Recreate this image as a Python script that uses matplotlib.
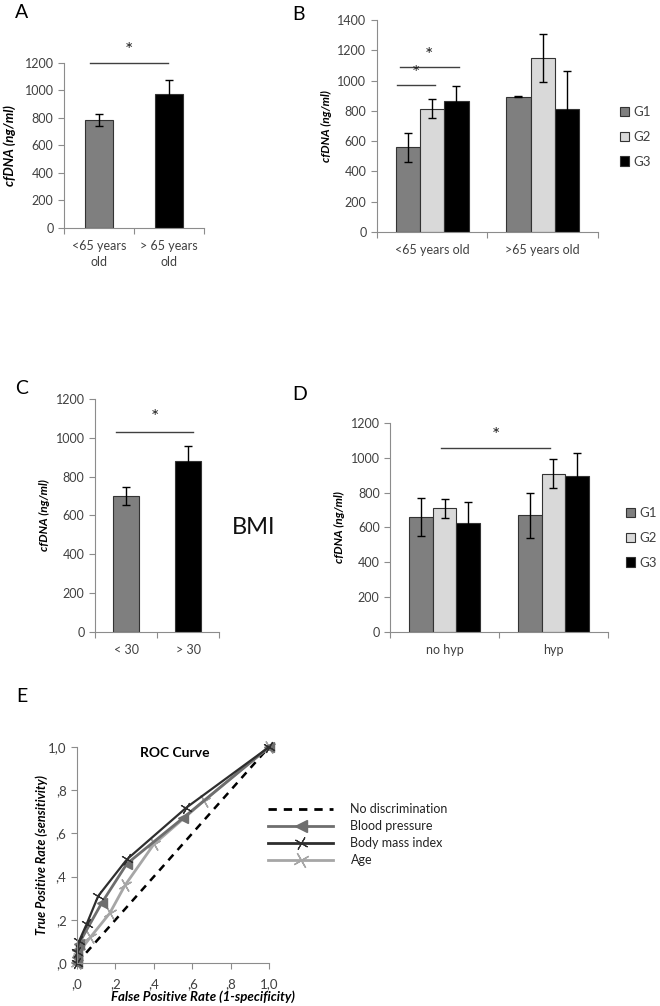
import numpy as np
import matplotlib
matplotlib.use('Agg')
import matplotlib.pyplot as plt
from matplotlib.lines import Line2D

plt.rcParams['font.family'] = ['Lato', 'DejaVu Sans']

# panel A: age
age_cats = ['<65 years\nold', '> 65 years\nold']
age_vals = [785, 975]
age_err = [45, 100]

# panel B: age x group
groups = ['G1', 'G2', 'G3']
b_cats = ['<65 years old', '>65 years old']
b_vals = [[560, 895], [815, 1150], [865, 810]]
b_err = [[95, 5], [65, 160], [100, 255]]

# panel C: BMI
bmi_cats = ['< 30', '> 30']
bmi_vals = [700, 880]
bmi_err = [45, 80]

# panel D: hypertension x group
d_cats = ['no hyp', 'hyp']
d_vals = [[660, 670], [710, 910], [625, 895]]
d_err = [[110, 130], [55, 85], [120, 130]]

# panel E: ROC curves
bp_fpr = [0, 0, 0, 0.01, 0.13, 0.26, 0.55, 1.0]
bp_tpr = [0, 0.03, 0.06, 0.09, 0.28, 0.46, 0.67, 1.0]
bmi_fpr = [0, 0, 0.01, 0.05, 0.11, 0.26, 0.57, 1.0]
bmi_tpr = [0, 0.05, 0.10, 0.18, 0.31, 0.48, 0.72, 1.0]
agec_fpr = [0, 0, 0.01, 0.07, 0.17, 0.25, 0.40, 0.66, 1.0]
agec_tpr = [0, 0.02, 0.05, 0.12, 0.23, 0.36, 0.55, 0.75, 1.0]
roc_ticks = [0, 0.2, 0.4, 0.6, 0.8, 1.0]
roc_ticklabels = [',0', ',2', ',4', ',6', ',8', '1,0']

colors = ['#7f7f7f', '#d9d9d9', '#000000']
axis_col = '#8c8c8c'
tick_col = '#404040'
FS = 9


def style_axes(ax, ymax, step, ncat, ylab_size=8.5, ylab_pad=4):
    ax.set_ylim(0, ymax)
    ax.set_yticks(np.arange(0, ymax + 1, step))
    ax.set_xlim(0, ncat)
    ax.set_xticks(np.arange(0, ncat + 1))
    ax.set_xticklabels([])
    ax.tick_params(axis='x', which='major', length=4, color=axis_col, direction='out')
    ax.tick_params(axis='x', which='minor', length=0, labelsize=FS, labelcolor=tick_col, pad=9)
    ax.tick_params(axis='y', length=4, color=axis_col, labelsize=FS, labelcolor=tick_col)
    for s in ['top', 'right']:
        ax.spines[s].set_visible(False)
    for s in ['left', 'bottom']:
        ax.spines[s].set_color(axis_col)
    ax.set_ylabel('cfDNA (ng/ml)', fontsize=ylab_size, fontweight='bold', style='italic',
                  color='black', labelpad=ylab_pad)


def sig(ax, x0, x1, y, dy):
    ax.plot([x0, x1], [y, y], color='#404040', lw=1, clip_on=False)
    ax.text((x0 + x1) / 2, y + dy, '*', ha='center', va='center', fontsize=14, color='#202020')


def two_bars(ax, cats, vals, errs):
    x = np.arange(len(cats)) + 0.5
    ax.bar(x, vals, width=0.41, color=[colors[0], colors[2]], edgecolor='#333333', lw=0.8, zorder=2)
    ax.errorbar(x, vals, yerr=errs, fmt='none', ecolor='black', elinewidth=1, capsize=3, zorder=3)
    ax.set_xticks(x, minor=True)
    ax.set_xticklabels(cats, minor=True, linespacing=1.4)


def group_bars(ax, cats, vals, errs, w):
    x = np.arange(len(cats)) + 0.5
    handles = []
    for i in range(len(groups)):
        xi = x + (i - 1) * w
        h = ax.bar(xi, vals[i], width=w, color=colors[i], edgecolor='#333333', lw=0.8, zorder=2, label=groups[i])
        ax.errorbar(xi, vals[i], yerr=errs[i], fmt='none', ecolor='black', elinewidth=1, capsize=3, zorder=3)
        handles.append(h)
    ax.set_xticks(x, minor=True)
    ax.set_xticklabels(cats, minor=True)
    return handles


def group_legend(handles, x, y):
    fig.legend(handles=handles, loc='center left', bbox_to_anchor=(x, y), frameon=False,
               fontsize=FS + 0.5, handlelength=0.7, handleheight=0.7, handletextpad=0.3,
               labelspacing=0.95, borderaxespad=0, borderpad=0, labelcolor=tick_col)


fig = plt.figure(figsize=(6.6, 10.06), dpi=100)

# A
axA = fig.add_axes([0.097, 0.7734, 0.212, 0.164])
style_axes(axA, 1200, 200, 2, ylab_size=9.5, ylab_pad=6)
two_bars(axA, age_cats, age_vals, age_err)
sig(axA, 0.37, 1.49, 1200, 90)

# B
axB = fig.add_axes([0.571, 0.7694, 0.335, 0.2106])
style_axes(axB, 1400, 200, 2)
group_legend(group_bars(axB, b_cats, b_vals, b_err, 0.22), 620 / 660, 1 - 137 / 1006)
sig(axB, 0.18, 0.53, 970, 75)
sig(axB, 0.21, 0.74, 1090, 75)

# C
axC = fig.add_axes([0.144, 0.3718, 0.188, 0.2316])
style_axes(axC, 1200, 200, 2)
two_bars(axC, bmi_cats, bmi_vals, bmi_err)
sig(axC, 0.34, 1.58, 1030, 75)
fig.text(232 / 660, 1 - 527 / 1006, 'BMI', fontsize=17, ha='left', va='center', color='#111111')

# D
axD = fig.add_axes([0.591, 0.3718, 0.330, 0.2077])
style_axes(axD, 1200, 200, 2)
group_legend(group_bars(axD, d_cats, d_vals, d_err, 0.217), 626 / 660, 1 - 538 / 1006)
sig(axD, 0.47, 1.47, 1056, 75)

# E
axE = fig.add_axes([0.1167, 0.0427, 0.2909, 0.2147])
axE.plot([0, 1], [0, 1], ls=(0, (3, 2.5)), color='black', lw=1.8)
axE.plot(agec_fpr, agec_tpr, color='#a6a6a6', lw=2, marker=(4, 2, 30), ms=10, mew=1, clip_on=False)
axE.plot(bp_fpr, bp_tpr, color='#6e6e6e', lw=2, marker='<', ms=7, clip_on=False)
axE.plot(bmi_fpr, bmi_tpr, color='#2e2e2e', lw=1.6, marker=(4, 2, 60), ms=9, mew=0.8, clip_on=False)
axE.set_xlim(0, 1)
axE.set_ylim(0, 1)
axE.set_xticks(roc_ticks)
axE.set_xticklabels(roc_ticklabels)
axE.set_yticks(roc_ticks)
axE.set_yticklabels(roc_ticklabels)
axE.tick_params(length=4, color=axis_col, labelsize=FS + 0.5, labelcolor=tick_col)
axE.tick_params(axis='x', pad=7)
for s in ['top', 'right']:
    axE.spines[s].set_visible(False)
for s in ['left', 'bottom']:
    axE.spines[s].set_color(axis_col)
axE.text(0.51, 0.972, 'ROC Curve', transform=axE.transAxes, fontsize=10, fontweight='bold',
         ha='center', va='center')
axE.set_ylabel('True Positive Rate (sensitivity)', fontsize=9, fontweight='bold', style='italic',
               labelpad=0)
fig.text(203 / 660, 1 - 997 / 1006, 'False Positive Rate (1-specificity)', fontsize=9.5,
         fontweight='bold', style='italic', ha='center', va='center')

roc_handles = [
    Line2D([], [], ls=(0, (3, 2.5)), color='black', lw=2),
    Line2D([], [], color='#6e6e6e', lw=2, marker='<', ms=8),
    Line2D([], [], color='#2e2e2e', lw=2, marker=(4, 2, 60), ms=10, mew=0.8),
    Line2D([], [], color='#a6a6a6', lw=2, marker=(4, 2, 30), ms=12, mew=1),
]
fig.legend(roc_handles, ['No discrimination', 'Blood pressure', 'Body mass index', 'Age'],
           loc='upper left', bbox_to_anchor=(268 / 660, 1 - 803 / 1006), frameon=False,
           fontsize=9, handlelength=5.2, labelspacing=0.4, handletextpad=1.4,
           borderaxespad=0, borderpad=0, labelcolor='#222222')

# panel letters
for lab, x, y in [('A', 22, 13), ('B', 299, 15), ('C', 22, 388), ('D', 300, 395), ('E', 22, 697)]:
    fig.text(x / 660, 1 - y / 1006, lab, fontsize=14, ha='center', va='center')

fig.savefig('out.png', dpi=100)
